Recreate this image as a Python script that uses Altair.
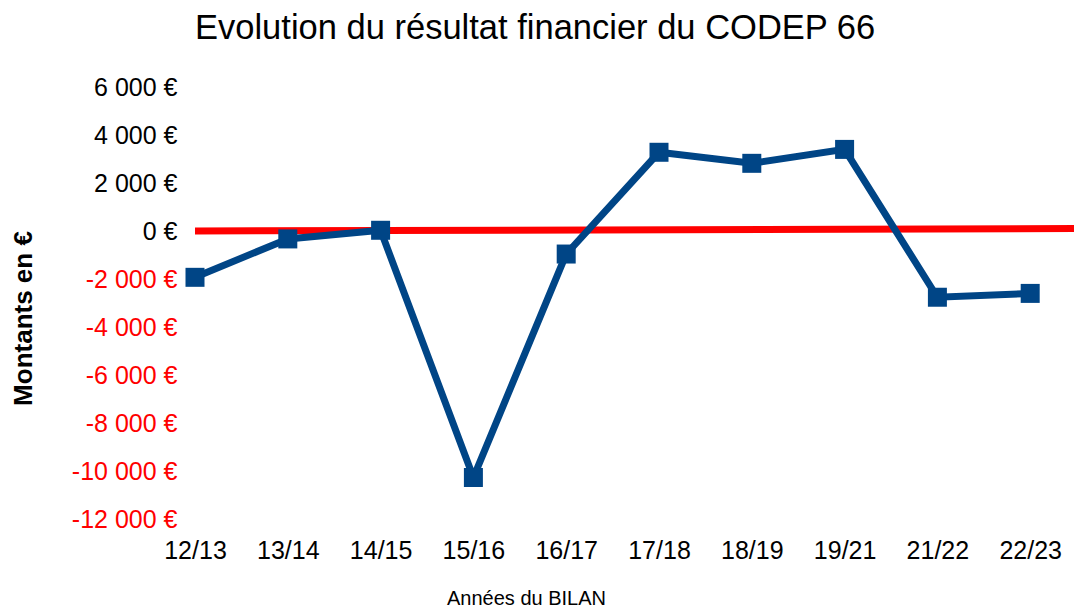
import altair as alt
import pandas as pd

annees = ["12/13", "13/14", "14/15", "15/16", "16/17", "17/18", "18/19", "19/21", "21/22", "22/23"]
resultats = [-1930, -330, 30, -10270, -960, 3280, 2820, 3400, -2760, -2600]

df = pd.DataFrame({"annee": annees, "resultat": resultats})

W = 879
H = 432
FONT = "Liberation Sans"

xenc = alt.X(
    "annee:N",
    sort=annees,
    scale=alt.Scale(type="point", padding=0.236, align=0),
    axis=alt.Axis(
        title="Années du BILAN",
        titleFont=FONT, titleFontSize=20, titleFontWeight="normal", titleColor="black",
        titleX=331, titleY=85, titleAnchor="middle", titleBaseline="alphabetic", titleAlign="center",
        labelFont=FONT, labelFontSize=25, labelColor="black", labelAngle=0,
        labelPadding=19, domain=False, ticks=False, grid=False,
    ),
)
yenc = alt.Y(
    "resultat:Q",
    scale=alt.Scale(domain=[-12000, 6000], nice=False, zero=False),
    axis=alt.Axis(
        title="Montants en €",
        titleFont=FONT, titleFontSize=26, titleFontWeight="bold", titleColor="black",
        titleX=-172, titleY=231, titleAngle=-90, titleBaseline="middle", titleAlign="center",
        values=[-12000, -10000, -8000, -6000, -4000, -2000, 0, 2000, 4000, 6000],
        labelExpr="(datum.value < 0 ? '-' : '') + replace(format(abs(datum.value), ','), ',', ' ') + ' €'",
        labelFont=FONT, labelFontSize=25,
        labelColor={"condition": {"test": "datum.value < 0", "value": "#ff0000"}, "value": "black"},
        labelPadding=18, domain=False, ticks=False, grid=False,
    ),
)

base = alt.Chart(df)

line = base.mark_line(color="#004586", strokeWidth=7, strokeJoin="miter").encode(x=xenc, y=yenc)
pts = base.mark_square(color="#004586", size=361, opacity=1).encode(x=xenc, y=yenc)

zero_line = alt.Chart(pd.DataFrame({"v": [0], "v2": [100]})).mark_rule(
    color="#ff0000", strokeWidth=7
).encode(
    x=alt.value(0), x2=alt.value(W),
    y=alt.Y("v:Q"), y2="v2:Q",
)

chart = alt.layer(zero_line, line, pts).properties(
    width=W,
    height=H,
    autosize=alt.AutoSizeParams(type="none"),
    padding={"left": 187, "top": 79, "right": 0, "bottom": 88},
    background="white",
    title=alt.TitleParams(
        "Evolution du résultat financier du CODEP 66",
        font=FONT, fontSize=34.5, fontWeight="normal", color="black",
        anchor="start", frame="group", offset=29,
    ),
).configure_view(strokeWidth=0, stroke="transparent")

chart.save("out.html", embed_options={"renderer": "svg", "actions": False})
